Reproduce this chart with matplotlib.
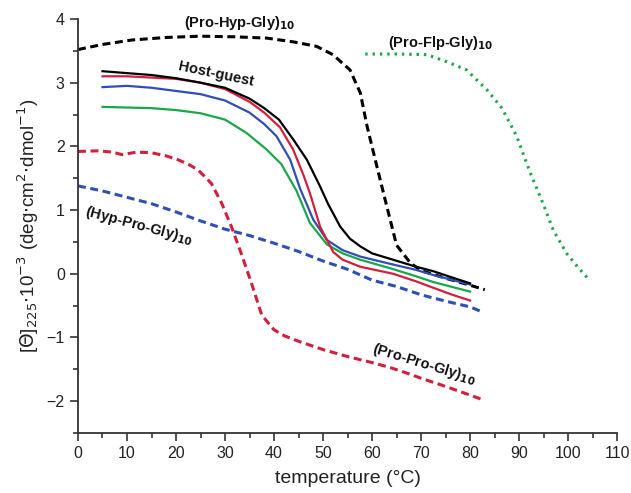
import matplotlib
matplotlib.use('Agg')
import matplotlib.pyplot as plt
import numpy as np
from matplotlib.ticker import MultipleLocator

plt.rcParams['font.family'] = ['Liberation Sans', 'DejaVu Sans']

# host-guest peptides (solid lines)
hg_black_x = [5, 10, 15, 20, 25, 30, 35, 38, 41, 44, 46.7, 49.4, 51, 53.5, 55.5, 57.6, 60, 64.3, 69, 72.5, 76, 80]
hg_black_y = [3.18, 3.15, 3.12, 3.07, 3.0, 2.92, 2.75, 2.6, 2.42, 2.1, 1.79, 1.37, 1.1, 0.74, 0.55, 0.43, 0.32, 0.22, 0.11, 0.04, -0.05, -0.15]
hg_red_x = [5, 10, 15, 20, 25, 30, 35, 38, 41.2, 43.9, 46, 47.3, 49.4, 51, 52.1, 54, 57.6, 64.3, 69, 72.5, 76, 80]
hg_red_y = [3.1, 3.1, 3.08, 3.06, 3.0, 2.9, 2.7, 2.53, 2.3, 1.95, 1.55, 1.27, 0.74, 0.5, 0.34, 0.22, 0.11, 0.0, -0.12, -0.22, -0.32, -0.42]
hg_blue_x = [5, 10, 15, 20, 25, 30, 35, 38, 40.5, 43.3, 45.3, 48, 50.8, 54, 57.6, 64, 69, 72.5, 76, 80]
hg_blue_y = [2.93, 2.95, 2.92, 2.87, 2.82, 2.72, 2.53, 2.35, 2.16, 1.79, 1.34, 0.85, 0.53, 0.37, 0.27, 0.15, 0.06, -0.02, -0.09, -0.17]
hg_green_x = [5, 10, 15, 20, 25, 30, 34.4, 38.5, 41.5, 44.6, 47.3, 50.8, 54, 57.6, 64, 69, 72.5, 76, 80]
hg_green_y = [2.62, 2.61, 2.6, 2.57, 2.52, 2.42, 2.21, 1.95, 1.72, 1.3, 0.8, 0.46, 0.32, 0.22, 0.08, -0.04, -0.13, -0.2, -0.28]

# reference peptides (dashed / dotted)
phg_x = [0, 5, 11, 18, 25, 32, 38.5, 44, 48.7, 52, 55.5, 57.6, 59, 61, 63, 65, 67.8, 70, 75, 80, 83]
phg_y = [3.52, 3.6, 3.67, 3.71, 3.73, 3.72, 3.7, 3.64, 3.57, 3.44, 3.2, 2.84, 2.31, 1.68, 1.06, 0.45, 0.17, 0.05, -0.07, -0.18, -0.25]
pfg_x = [58.6, 65, 71.2, 75.2, 79.3, 83.4, 86.5, 89.5, 92.2, 95, 97, 99.7, 101.8, 104]
pfg_y = [3.45, 3.45, 3.44, 3.33, 3.2, 2.89, 2.6, 2.16, 1.6, 1.08, 0.68, 0.32, 0.12, -0.07]
hpg_x = [0, 5, 10, 15, 20, 25, 30, 35, 40, 45, 50, 55, 60, 65, 70, 75, 80, 82.5]
hpg_y = [1.38, 1.3, 1.2, 1.1, 0.97, 0.83, 0.7, 0.6, 0.48, 0.35, 0.2, 0.07, -0.1, -0.2, -0.33, -0.43, -0.52, -0.6]
ppg_x = [0, 4, 7, 9, 12, 15, 18, 20.4, 22.5, 24.5, 27.2, 29.3, 31.3, 33.3, 35.4, 37.5, 40, 42, 45, 50, 55, 60.3, 64, 67.1, 70, 73.9, 78, 82.7]
ppg_y = [1.92, 1.93, 1.91, 1.87, 1.91, 1.9, 1.85, 1.79, 1.72, 1.63, 1.42, 1.11, 0.74, 0.32, -0.15, -0.65, -0.88, -0.97, -1.06, -1.19, -1.3, -1.4, -1.48, -1.56, -1.64, -1.74, -1.85, -1.98]

red = '#d2203c'
blue = '#2f4fb5'
green = '#1ca64a'

fig = plt.figure(figsize=(6.31, 4.93), dpi=100)
ax = fig.add_axes([0.1236, 0.1217, 0.8544, 0.8398])

dash = (0, (2.6, 1.5))
ax.plot(phg_x, phg_y, color='black', lw=2.2, ls=dash)
ax.plot(pfg_x, pfg_y, color=green, lw=2.2, ls=(0, (0.8, 1.6)))
ax.plot(hpg_x, hpg_y, color=blue, lw=2.2, ls=dash)
ax.plot(ppg_x, ppg_y, color=red, lw=2.2, ls=dash)

ax.plot(hg_green_x, hg_green_y, color=green, lw=1.6)
ax.plot(hg_blue_x, hg_blue_y, color=blue, lw=1.6)
ax.plot(hg_red_x, hg_red_y, color=red, lw=1.6)
ax.plot(hg_black_x, hg_black_y, color='black', lw=1.6)

lab = dict(fontsize=10.5, fontweight='bold', ha='center', va='center', color='#111111')
ax.text(33, 3.94, r'(Pro-Hyp-Gly)$_{\mathbf{10}}$', **lab)
ax.text(74, 3.62, r'(Pro-Flp-Gly)$_{\mathbf{10}}$', **lab)
ax.text(28.2, 3.13, 'Host-guest', rotation=-12, **lab)
ax.text(12.5, 0.76, r'(Hyp-Pro-Gly)$_{\mathbf{10}}$', rotation=-15, **lab)
ax.text(70.6, -1.42, r'(Pro-Pro-Gly)$_{\mathbf{10}}$', rotation=-17, **lab)

ax.set_xlim(0, 110)
ax.set_ylim(-2.5, 4)
ax.xaxis.set_major_locator(MultipleLocator(10))
ax.xaxis.set_minor_locator(MultipleLocator(5))
ax.yaxis.set_major_locator(MultipleLocator(1))
ax.yaxis.set_minor_locator(MultipleLocator(0.5))
ax.spines['top'].set_visible(False)
ax.spines['right'].set_visible(False)
for s in ['left', 'bottom']:
    ax.spines[s].set_linewidth(1.3)
    ax.spines[s].set_color('#333333')
ax.tick_params(which='major', direction='out', length=6, width=1.2, color='#333333', labelsize=11.5, labelcolor='#222222')
ax.tick_params(which='minor', direction='out', length=3.5, width=1.2, color='#333333')

ax.set_xlabel('temperature (°C)', fontsize=14, color='#222222', labelpad=6)
ax.set_ylabel(r'[$\Theta$]$_{225}$$\cdot$10$^{-3}$ (deg$\cdot$cm$^2$$\cdot$dmol$^{-1}$)', fontsize=13.5, color='#222222', labelpad=4)

fig.savefig('out.png', dpi=100)
